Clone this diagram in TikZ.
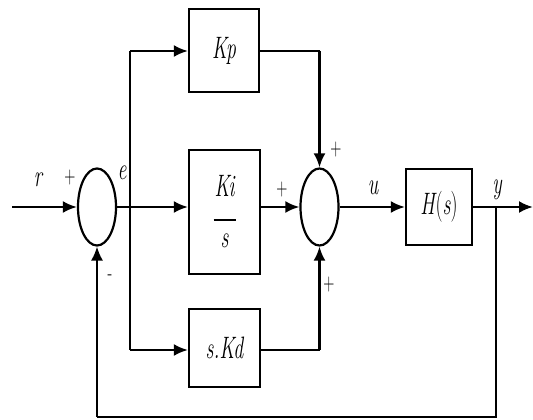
\documentclass[tikz,border=0pt]{standalone}
\usetikzlibrary{arrows.meta,shapes.geometric}
\newcommand\sqz[1]{\scalebox{0.64}[1]{#1}}
\begin{document}
\begin{tikzpicture}[x=1pt,y=-1pt,
  blk/.style={draw,line width=2.2pt,inner sep=0pt,align=center,font=\fontsize{31}{34}\selectfont\itshape},
  sumn/.style={draw,ellipse,line width=2.2pt,minimum width=38pt,minimum height=77pt,inner sep=0pt},
  wire/.style={line width=2.4pt},
  arr/.style={wire,-{Latex[length=14pt,width=12pt]}},
  lbl/.style={font=\fontsize{31}{34}\selectfont\itshape,inner sep=0pt},
  sgn/.style={font=\fontsize{24}{26}\selectfont,inner sep=0pt}]
\useasboundingbox (0,0) rectangle (533,420);
\node[sumn] (s1) at (97,207) {};
\node[sumn] (s2) at (319.5,207) {};
\node[blk,minimum width=70pt,minimum height=83pt] (kp) at (224,50.5) {\sqz{Kp}};
\node[blk,minimum width=71pt,minimum height=124pt] (ki) at (224.5,212) {\sqz{Ki}\\[-10pt]\rule{22pt}{2.2pt}\\[-7pt]\sqz{s}};
\node[blk,minimum width=71pt,minimum height=78pt] (kd) at (224.5,348) {\sqz{s.Kd}};
\node[blk,minimum width=66pt,minimum height=76pt] (h) at (439,207) {\sqz{H\kern1pt\upshape(\itshape s\upshape)}};
\coordinate (in) at (12,207);
\coordinate (br) at (130,207);
\coordinate (brt) at (130,51);
\coordinate (brb) at (130,350);
\coordinate (kpr) at (319.5,51);
\coordinate (kdr) at (319.5,350);
\coordinate (yb) at (496,207);
\coordinate (out) at (533,207);
\coordinate (fbr) at (496,417);
\coordinate (fbl) at (97,417);
% wires
\draw[arr] (in) -- (s1.west);
\draw[arr] (s1.east) -- (s1.east -| ki.west);
\draw[wire,line width=1.8pt] (brt) -- (brb);
\draw[arr] (brt) -- (brt -| kp.west);
\draw[arr] (brb) -- (brb -| kd.west);
\draw[wire] (kp.east |- kpr) -- (kpr);
\draw[arr] (kpr) -- (s2.north);
\draw[wire] (kd.east |- kdr) -- (kdr);
\draw[arr] (kdr) -- (s2.south);
\draw[arr] (ki.east |- s2.west) -- (s2.west);
\draw[arr] (s2.east) -- (h.west);
\draw[arr] (h.east) -- (out);
\draw[wire,line width=1.8pt] (yb) -- (fbr) -- (fbl);
\draw[arr,line width=1.8pt] (fbl) -- (s1.south);
% labels
\node[lbl] (lr) at (38,180) {\sqz{r}};
\node[sgn] (p1) at (70,178) {\sqz{+}};
\node[lbl] (le) at (122,173) {\sqz{e}};
\node[sgn] (m1) at (110,278) {\sqz{-}};
\node[sgn] (p2) at (336,150) {\sqz{+}};
\node[sgn] (p3) at (282,190) {\sqz{+}};
\node[sgn] (p4) at (329,285) {\sqz{+}};
\node[lbl] (lu) at (373,188) {\sqz{u}};
\node[lbl] (ly) at (497,190) {\sqz{y}};
\end{tikzpicture}
\end{document}
